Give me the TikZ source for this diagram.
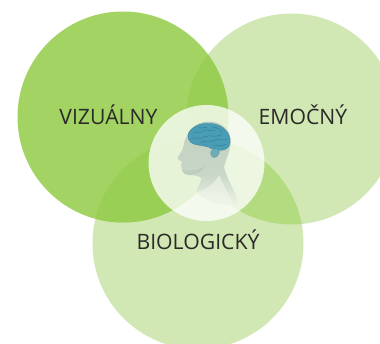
\documentclass[tikz,border=0pt]{standalone}
\usepackage{fontspec}
\setmainfont{Open Sans}
\definecolor{gA}{HTML}{A3D363}
\definecolor{gB}{HTML}{D2E8B4}
\definecolor{gAB}{HTML}{98CF54}
\definecolor{gBB}{HTML}{B3DB80}
\definecolor{ink}{HTML}{2A2A28}
\definecolor{skin}{HTML}{BFCFBF}
\definecolor{pale}{HTML}{F2F7EC}
\definecolor{brain}{HTML}{4A9DB6}
\definecolor{fold}{HTML}{357F94}
\tikzset{
  lab/.style={font=\fontsize{21.2}{24}\selectfont, text=ink, inner sep=0pt, anchor=base},
  blob/.style={circle, minimum size=211pt, inner sep=0pt, draw=none},
  foldline/.style={draw=fold, line width=0.45pt, line cap=round},
}
\begin{document}
\begin{tikzpicture}[x=1pt,y=-1pt]
\useasboundingbox (0,0) rectangle (380,344);
\clip (0,0) rectangle (380,344);
\fill[white] (0,0) rectangle (380,344);
\node[blob, fill=gB] (emo) at (291.5,119) {};
\node[blob, fill=gB] (bio) at (198,243.5) {};
\node[blob, fill=gA] (viz) at (123,117) {};
\begin{scope}
  \clip (291.5,119) circle[radius=105.5pt];
  \fill[gBB] (198,243.5) circle[radius=105.5pt];
\end{scope}
\begin{scope}
  \clip (123,117) circle[radius=105.5pt];
  \fill[gAB] (291.5,119) circle[radius=105.5pt];
  \fill[gAB] (198,243.5) circle[radius=105.5pt];
\end{scope}
\node[circle, minimum size=116pt, inner sep=0pt, fill=white, fill opacity=0.76] (core) at (206.5,163) {};
\begin{scope}[shift={(140,95)}, x=0.3333pt, y=-0.3333pt]
  % whole silhouette: head, neck and shoulder, fading downward in bands
  \begin{scope}
  \clip
    (138,128) .. controls (130,145) and (132,155) .. (127,165)
    .. controls (122,175) and (112,185) .. (113,192)
    .. controls (116,198) and (124,196) .. (126,200)
    .. controls (120,206) and (126,210) .. (124,216)
    .. controls (125,228) and (130,238) .. (142,240)
    .. controls (155,242) and (170,238) .. (185,250)
    .. controls (182,265) and (172,275) .. (170,290)
    .. controls (195,318) and (255,340) .. (292,328)
    .. controls (298,305) and (262,262) .. (252,215)
    .. controls (258,195) and (268,175) .. (272,145)
    .. controls (275,115) and (255,85) .. (215,80)
    .. controls (175,76) and (150,100) .. (138,128) -- cycle;
  \foreach \yy in {76,84,...,340}{
    \pgfmathtruncatemacro{\mixv}{\yy<240 ? 100-(\yy-76)*0.12 : 80-(\yy-240)*0.8}
    \fill[skin!\mixv!pale] (100,\yy) rectangle (310,\yy+8.5);
  }
  \end{scope}
  % pale highlight on neck
  \fill[pale, opacity=0.6]
    (172,292) .. controls (205,280) and (225,262) .. (238,240)
    .. controls (248,270) and (270,300) .. (280,330)
    .. controls (250,335) and (200,318) .. (172,292) -- cycle;
  % jaw shading
  \fill[skin!88!black, opacity=0.3]
    (128,225) .. controls (150,232) and (175,225) .. (195,212)
    .. controls (190,232) and (165,240) .. (142,240)
    .. controls (135,238) and (130,232) .. (128,225) -- cycle;
  % brain
  \fill[brain, draw=fold, line width=0.3pt]
    (144,120) .. controls (148,98) and (180,82) .. (212,85)
    .. controls (252,88) and (274,118) .. (270,144)
    .. controls (268,158) and (258,163) .. (245,166)
    .. controls (228,166) and (215,162) .. (205,156)
    .. controls (185,150) and (165,152) .. (152,142)
    .. controls (146,136) and (142,128) .. (144,120) -- cycle;
  % cerebellum
  \fill[brain!70!skin, draw=fold!70!skin, line width=0.3pt]
    (212,172) .. controls (215,160) and (232,158) .. (238,168)
    .. controls (240,180) and (225,192) .. (217,186)
    .. controls (213,182) and (212,178) .. (212,172) -- cycle;
  % folds
  \draw[foldline] (160,115) .. controls (170,105) and (180,118) .. (190,108) .. controls (200,100) and (210,112) .. (225,104);
  \draw[foldline] (155,130) .. controls (170,125) and (178,135) .. (195,125) .. controls (210,118) and (225,130) .. (245,118);
  \draw[foldline] (180,142) .. controls (195,135) and (210,145) .. (225,135) .. controls (240,130) and (250,140) .. (262,132);
  \draw[foldline] (215,95) .. controls (225,100) and (235,95) .. (248,112);
  \draw[foldline] (222,152) .. controls (235,148) and (245,155) .. (258,148);
  \draw[foldline] (178,98) .. controls (185,102) and (195,95) .. (203,96);
\end{scope}
\node[lab] (vtext) at (108.5,125) {VIZUÁLNY};
\node[lab] (etext) at (303,125) {EMOČNÝ};
\node[lab] (btext) at (198,250) {BIOLOGICKÝ};
\end{tikzpicture}
\end{document}
